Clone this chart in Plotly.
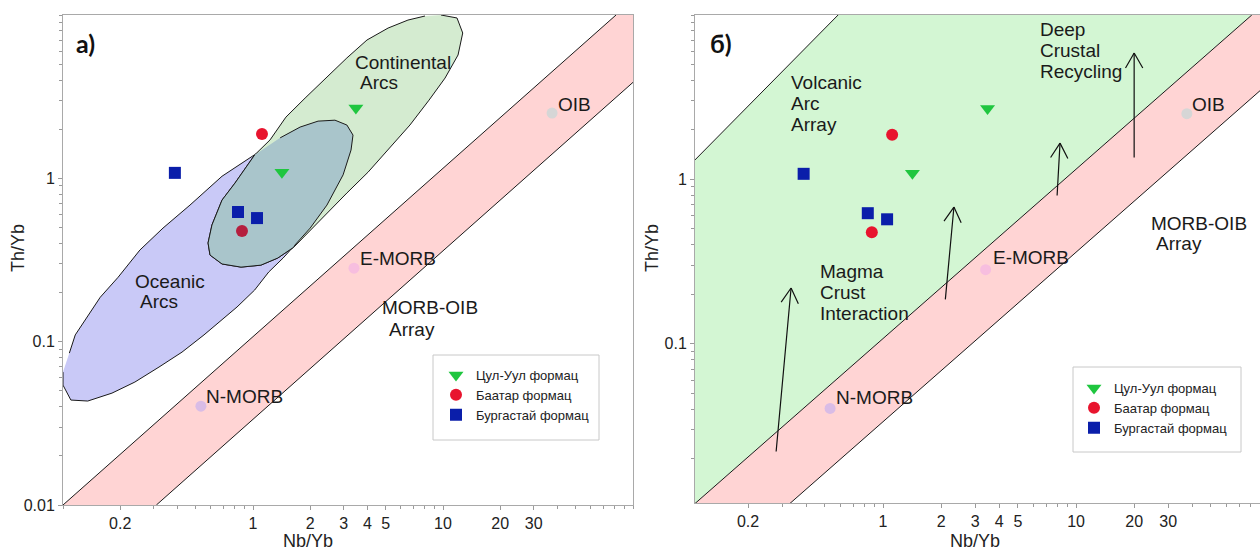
import numpy as np
import plotly.graph_objects as go

W, H = 1260, 551

# ---------------- data ----------------
series_names = ["Цул-Уул формац", "Баатар формац", "Бургастай формац"]
nb_tsul = [3.48, 1.42]
th_tsul = [2.70, 1.09]
nb_baatar = [1.115, 0.875]
th_baatar = [1.87, 0.476]
nb_burg = [0.388, 0.834, 1.05]
th_burg = [1.08, 0.622, 0.571]

ref_names = ["N-MORB", "E-MORB", "OIB"]
ref_nb = [0.532, 3.40, 37.5]
ref_th = [0.0403, 0.282, 2.51]

# MORB-OIB array boundaries
band_upper_nb = [0.1, 81.4]
band_upper_th = [0.01, 10.0]
band_lower_nb = [0.31, 100.0]
band_lower_th = [0.01, 3.87]
# volcanic arc array upper boundary (panel b)
arc_upper_nb = [0.106, 0.585]
arc_upper_th = [1.31, 10.0]

# Continental arcs field (panel a)
cont_nb = [9.76, 11.85, 12.7, 12.0, 10.25, 8.44, 6.70, 5.13, 4.03, 3.12, 2.48, 2.00, 1.64,
           1.35, 1.10, 0.865, 0.687, 0.594, 0.580, 0.608, 0.687, 0.804, 1.02, 1.23, 1.49,
           1.88, 2.45, 3.12, 3.98, 5.14, 6.54, 8.04]
cont_th = [10.0, 9.59, 7.76, 5.69, 4.11, 3.01, 2.12, 1.49, 1.09, 0.813, 0.622, 0.482, 0.379,
           0.325, 0.294, 0.286, 0.299, 0.339, 0.402, 0.518, 0.736, 0.936, 1.39, 1.72, 2.37,
           3.10, 4.17, 5.46, 7.03, 8.32, 9.31, 9.86]
# Oceanic arcs field (panel a)
ocean_nb = [0.1, 0.1, 0.110, 0.135, 0.181, 0.239, 0.320, 0.423, 0.552, 0.687, 0.824, 1.02,
            1.21, 1.44, 1.66, 2.00, 2.45, 2.98, 3.28, 3.36, 3.12, 2.70, 2.20, 1.77, 1.39,
            1.02, 0.687, 0.466, 0.336, 0.254, 0.195, 0.157, 0.139, 0.116, 0.108]
ocean_th = [0.0651, 0.0542, 0.0439, 0.0433, 0.0484, 0.0566, 0.0699, 0.0863, 0.110, 0.136,
            0.163, 0.207, 0.267, 0.325, 0.390, 0.496, 0.686, 1.05, 1.49, 1.84, 2.12, 2.27,
            2.24, 2.06, 1.77, 1.39, 1.03, 0.686, 0.496, 0.364, 0.248, 0.187, 0.152, 0.110,
            0.0851]
# overlap of the two fields
overlap_nb = [1.02, 0.804, 0.687, 0.608, 0.580, 0.594, 0.687, 0.865, 1.10, 1.35, 1.64, 1.66,
              2.00, 2.45, 2.98, 3.28, 3.36, 3.12, 2.70, 2.20, 1.77, 1.39]
overlap_th = [1.39, 0.936, 0.736, 0.518, 0.402, 0.339, 0.299, 0.286, 0.294, 0.325, 0.379,
              0.390, 0.496, 0.686, 1.05, 1.49, 1.84, 2.12, 2.27, 2.24, 2.06, 1.77]

# trend arrows (panel b): tail -> head
arrow_tail_nb = [0.279, 2.10, 7.97, 20.0]
arrow_tail_th = [0.0216, 0.182, 0.78, 1.33]
arrow_head_nb = [0.334, 2.33, 8.26, 20.0]
arrow_head_th = [0.218, 0.678, 1.66, 5.87]

# text labels
labels_a = [("Continental", 3.36, 5.15), ("Arcs", 3.57, 3.84),
            ("Oceanic", 0.234, 0.232), ("Arcs", 0.248, 0.175),
            ("OIB", 39.3, 2.85), ("E-MORB", 3.57, 0.325), ("N-MORB", 0.552, 0.0464),
            ("MORB-OIB", 4.66, 0.161), ("Array", 5.07, 0.119)]
labels_b = [("Volcanic", 0.326, 3.91), ("Arc", 0.326, 2.91), ("Array", 0.326, 2.17),
            ("Deep", 6.35, 8.11), ("Crustal", 6.35, 6.12), ("Recycling", 6.35, 4.56),
            ("OIB", 39.0, 2.87), ("MORB-OIB", 23.9, 0.542), ("Array", 25.4, 0.409),
            ("E-MORB", 3.63, 0.332), ("Magma", 0.46, 0.273), ("Crust", 0.46, 0.206),
            ("Interaction", 0.46, 0.153), ("N-MORB", 0.557, 0.0473)]

x_ticks = [0.2, 1, 2, 3, 4, 5, 10, 20, 30]
x_tick_text = ["0.2", "1", "2", "3", "4", "5", "10", "20", "30"]
y_ticks_a = [0.01, 0.1, 1]
y_tick_text_a = ["0.01", "0.1", "1"]
y_ticks_b = [0.1, 1]
y_tick_text_b = ["0.1", "1"]
x_minor = [m * 10.0 ** e for e in (-1, 0, 1) for m in range(1, 10)] + [100]
y_minor = [m * 10.0 ** e for e in (-2, -1, 0) for m in range(1, 10)] + [10]

# ---------------- styles ----------------
FONT = "Liberation Sans, Arial, sans-serif"
C_TRI = "#1FC63F"
C_CIR = "#E8142E"
C_SQ = "#0A1EAA"
REF_COLORS = ["#D9BCE6", "#F7BEDF", "#D6D6D6"]
PINK = "#FFD4D4"
LINE = "#1a1a1a"

fig = go.Figure()

band_x = band_upper_nb + [band_lower_nb[-1]] + band_lower_nb[::-1]
band_y = band_upper_th + [band_upper_th[-1]] + band_lower_th[::-1]
green_x = arc_upper_nb + band_upper_nb[::-1] + [arc_upper_nb[0]]
green_y = arc_upper_th + band_upper_th[::-1] + [band_upper_th[0]]


def add_panel(xa, ya, legend, panel):
    kw = dict(xaxis=xa, yaxis=ya)
    if panel == "b":
        fig.add_trace(go.Scatter(x=green_x, y=green_y, fill="toself", fillcolor="#D3F6D3",
                                 line=dict(width=0), mode="lines", showlegend=False,
                                 hoverinfo="skip", **kw))
        fig.add_trace(go.Scatter(x=arc_upper_nb, y=arc_upper_th, mode="lines",
                                 line=dict(color=LINE, width=1), showlegend=False, **kw))
    fig.add_trace(go.Scatter(x=band_x, y=band_y, fill="toself", fillcolor=PINK,
                             line=dict(width=0), mode="lines", showlegend=False,
                             hoverinfo="skip", **kw))
    fig.add_trace(go.Scatter(x=band_upper_nb, y=band_upper_th, mode="lines",
                             line=dict(color=LINE, width=1), showlegend=False, **kw))
    fig.add_trace(go.Scatter(x=band_lower_nb, y=band_lower_th, mode="lines",
                             line=dict(color=LINE, width=1), showlegend=False, **kw))
    if panel == "a":
        fig.add_trace(go.Scatter(x=ocean_nb, y=ocean_th, fill="toself", fillcolor="#C9C9F7",
                                 line=dict(color=LINE, width=1), mode="lines",
                                 showlegend=False, **kw))
        fig.add_trace(go.Scatter(x=cont_nb, y=cont_th, fill="toself", fillcolor="#D4EBD0",
                                 line=dict(color=LINE, width=1), mode="lines",
                                 showlegend=False, **kw))
        fig.add_trace(go.Scatter(x=overlap_nb, y=overlap_th, fill="toself", fillcolor="#A9C5CB",
                                 line=dict(color=LINE, width=1), mode="lines",
                                 showlegend=False, **kw))
    fig.add_trace(go.Scatter(x=ref_nb, y=ref_th, mode="markers",
                             marker=dict(size=11, color=REF_COLORS, line=dict(width=0)),
                             showlegend=False, **kw))
    circ_col = ["#E8142E", "#B51F3E"] if panel == "a" else C_CIR
    fig.add_trace(go.Scatter(x=nb_tsul, y=th_tsul, mode="markers", name=series_names[0],
                             marker=dict(symbol="triangle-down", size=13, color=C_TRI,
                                         line=dict(width=0)),
                             legend=legend, **kw))
    fig.add_trace(go.Scatter(x=nb_baatar, y=th_baatar, mode="markers", name=series_names[1],
                             marker=dict(symbol="circle", size=12, color=circ_col,
                                         line=dict(width=0)),
                             legend=legend, **kw))
    fig.add_trace(go.Scatter(x=nb_burg, y=th_burg, mode="markers", name=series_names[2],
                             marker=dict(symbol="square", size=12, color=C_SQ,
                                         line=dict(width=0)),
                             legend=legend, **kw))


add_panel("x", "y", "legend", "a")
add_panel("x2", "y2", "legend2", "b")

# ---------------- axes ----------------
XA_DOM = [63 / W, 633 / W]
YA_DOM = [(H - 505) / H, (H - 15) / H]
XB_DOM = [695 / W, 1.0]
YB_DOM = [(H - 503) / H, (H - 15) / H]
XA_RANGE = [-1, 2]
YA_RANGE = [-2, 1]
XB_RANGE = [-0.974, 1.953]
YB_RANGE = [-1.97, 1]

common = dict(type="log", showgrid=False, zeroline=False, showline=True,
              linecolor="#A9A9A9", linewidth=1, ticks="outside", ticklen=4,
              tickcolor="#9A9A9A", tickfont=dict(family=FONT, size=16, color="#222"),
              automargin=False)

fig.update_layout(
    xaxis=dict(common, domain=XA_DOM, range=XA_RANGE, anchor="y", mirror=True,
               tickvals=x_ticks, ticktext=x_tick_text,
               minor=dict(tickvals=x_minor, ticks="outside", ticklen=3, tickcolor="#9A9A9A")),
    yaxis=dict(common, domain=YA_DOM, range=YA_RANGE, anchor="x", mirror=True,
               tickvals=y_ticks_a, ticktext=y_tick_text_a,
               minor=dict(tickvals=y_minor, ticks="outside", ticklen=3, tickcolor="#9A9A9A")),
    xaxis2=dict(common, domain=XB_DOM, range=XB_RANGE, anchor="y2", mirror=True,
                tickvals=x_ticks, ticktext=x_tick_text,
                minor=dict(tickvals=x_minor, ticks="outside", ticklen=3, tickcolor="#9A9A9A")),
    yaxis2=dict(common, domain=YB_DOM, range=YB_RANGE, anchor="x2", mirror=False,
                tickvals=y_ticks_b, ticktext=y_tick_text_b,
                minor=dict(tickvals=y_minor, ticks="outside", ticklen=3, tickcolor="#9A9A9A")),
)

# ---------------- annotations ----------------
ann = []
for txt, xv, yv in labels_a:
    ann.append(dict(text=txt, x=np.log10(xv), y=np.log10(yv), xref="x", yref="y",
                    xanchor="left", yanchor="middle", showarrow=False,
                    font=dict(family=FONT, size=19, color="#1a1a1a")))
for txt, xv, yv in labels_b:
    ann.append(dict(text=txt, x=np.log10(xv), y=np.log10(yv), xref="x2", yref="y2",
                    xanchor="left", yanchor="middle", showarrow=False,
                    font=dict(family=FONT, size=19, color="#1a1a1a")))

# panel letters
ann.append(dict(text="<b>a)</b>", x=85 / W, y=1 - 43 / H, xref="paper", yref="paper",
                xanchor="center", yanchor="middle",
                showarrow=False, font=dict(family="Lato, Liberation Sans", size=25, color="#111")))
ann.append(dict(text="<b>б)</b>", x=721 / W, y=1 - 43 / H, xref="paper", yref="paper",
                xanchor="center", yanchor="middle",
                showarrow=False, font=dict(family="Lato, Liberation Sans", size=25, color="#111")))

# axis titles
for xp in (308, 975):
    ann.append(dict(text="Nb/Yb", x=xp / W, y=1 - 541 / H, xref="paper", yref="paper",
                    xanchor="center", yanchor="middle",
                    showarrow=False, font=dict(family=FONT, size=18, color="#222")))
for xp in (18, 652):
    ann.append(dict(text="Th/Yb", x=xp / W, y=1 - 248 / H, xref="paper", yref="paper",
                    xanchor="center", yanchor="middle",
                    textangle=-90, showarrow=False,
                    font=dict(family=FONT, size=18, color="#222")))

# arrows in panel b
ppd_x = (XB_DOM[1] - XB_DOM[0]) * W / (XB_RANGE[1] - XB_RANGE[0])
ppd_y = (YB_DOM[1] - YB_DOM[0]) * H / (YB_RANGE[1] - YB_RANGE[0])
ARM = 19
HALF = np.radians(30)
for tx, ty, hx, hy in zip(arrow_tail_nb, arrow_tail_th, arrow_head_nb, arrow_head_th):
    ann.append(dict(text="", x=np.log10(hx), y=np.log10(hy), ax=np.log10(tx), ay=np.log10(ty),
                    xref="x2", yref="y2", axref="x2", ayref="y2", showarrow=True,
                    arrowhead=0, arrowwidth=1.2, arrowcolor="#111"))
    dx = -(np.log10(hx) - np.log10(tx)) * ppd_x
    dy = (np.log10(hy) - np.log10(ty)) * ppd_y
    n = np.hypot(dx, dy)
    ux, uy = dx / n, dy / n
    for s in (1, -1):
        c, sn = np.cos(s * HALF), np.sin(s * HALF)
        ox, oy = (ux * c - uy * sn) * ARM, (ux * sn + uy * c) * ARM
        ann.append(dict(text="", x=np.log10(hx), y=np.log10(hy), ax=ox, ay=oy,
                        xref="x2", yref="y2", showarrow=True, arrowhead=0,
                        arrowwidth=1.2, arrowcolor="#111"))

# legend boxes
shapes = [
    dict(type="rect", xref="paper", yref="paper", x0=433 / W, x1=599 / W,
         y0=1 - 440 / H, y1=1 - 355 / H, line=dict(color="#C8C8C8", width=1),
         fillcolor="white", layer="above"),
    dict(type="rect", xref="paper", yref="paper", x0=1073 / W, x1=1241 / W,
         y0=1 - 452 / H, y1=1 - 367 / H, line=dict(color="#C8C8C8", width=1),
         fillcolor="white", layer="above"),
]

leg_font = dict(family="Liberation Sans Narrow, Arial Narrow, Liberation Sans, Arial", size=13,
                color="#222")
fig.update_layout(
    width=W, height=H, autosize=False,
    margin=dict(l=0, r=0, t=0, b=0, pad=0, autoexpand=False),
    paper_bgcolor="white", plot_bgcolor="white",
    annotations=ann, shapes=shapes,
    legend=dict(x=436 / W, y=1 - 360 / H, xanchor="left", yanchor="top",
                bgcolor="rgba(0,0,0,0)", borderwidth=0, font=leg_font, tracegroupgap=0),
    legend2=dict(x=1074 / W, y=1 - 373 / H, xanchor="left", yanchor="top",
                 bgcolor="rgba(0,0,0,0)", borderwidth=0, font=leg_font, tracegroupgap=0),
)

fig.write_html(
    "out.html",
    config={"displayModeBar": False},
    post_script="document.body.style.margin='0px';document.body.style.overflow='hidden';",
)
